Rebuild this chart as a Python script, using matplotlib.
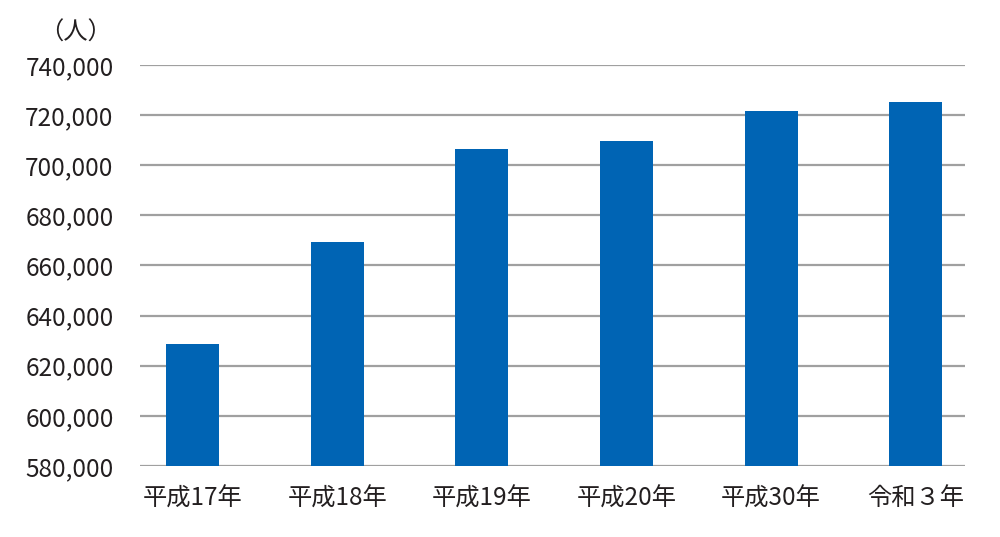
import matplotlib.pyplot as plt
import numpy as np

plt.rcParams['font.family'] = ['Noto Sans CJK JP', 'DejaVu Sans']

# data
years = ['平成17年', '平成18年', '平成19年', '平成20年', '平成30年', '令和３年']
people = [628700, 669400, 706300, 709600, 721600, 725100]
yticks = np.arange(580000, 740001, 20000)

fig = plt.figure(figsize=(10, 5.37), dpi=100)
ax = fig.add_axes([0.14, 0.1322, 0.825, 0.7468])

x = np.arange(len(years))
ax.bar(x, people, width=0.367, color='#0064b4', zorder=3)

ax.set_ylim(580000, 740000)
ax.set_xlim(-0.363, 5.34)
ax.set_yticks(yticks)
ax.set_yticklabels([f'{v:,}' for v in yticks])
ax.set_xticks(x)
ax.set_xticklabels(years)
ax.yaxis.grid(True, color='#a0a0a0', linewidth=1.6, zorder=0)
for s in ax.spines.values():
    s.set_visible(False)
ax.tick_params(axis='y', length=0, pad=19, labelsize=17.5, labelcolor='#231f20')
ax.tick_params(axis='x', length=0, pad=14, labelsize=17.5, labelcolor='#231f20')

fig.text(0.075, 0.94, '（人）', fontsize=17.5, color='#231f20', ha='center', va='center')

fig.savefig('out.png', dpi=100, facecolor='white')
